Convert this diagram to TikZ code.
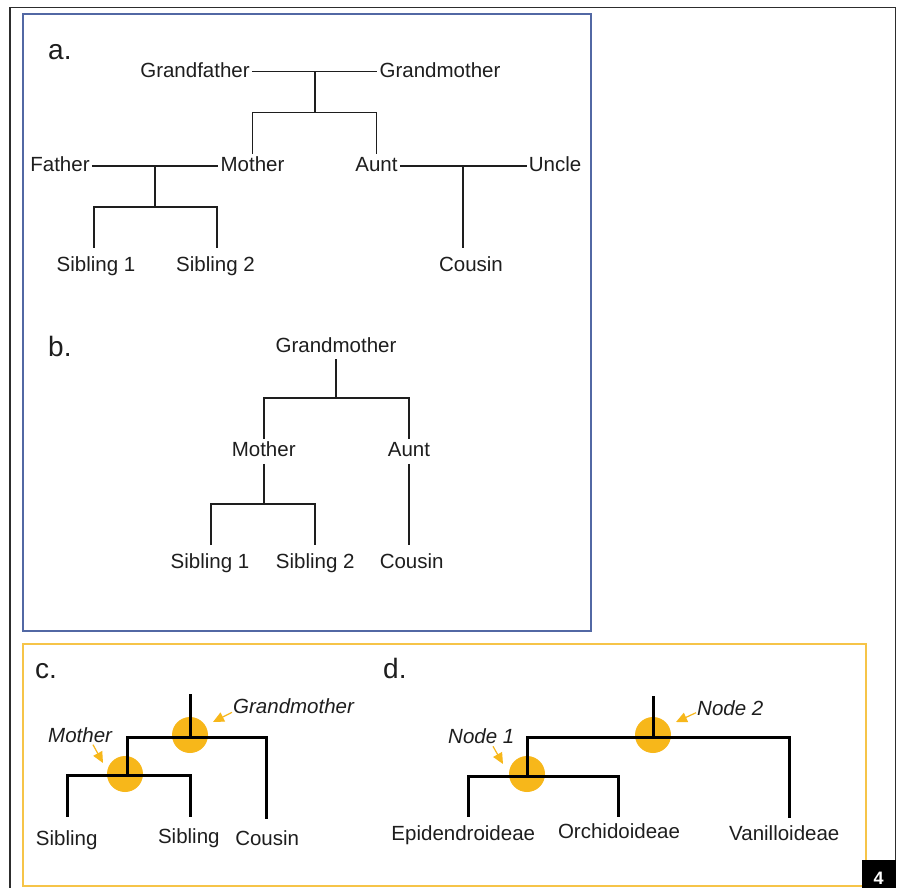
\documentclass[tikz,border=0pt]{standalone}
\usepackage{fontspec}
\setmainfont{Liberation Sans}
\usetikzlibrary{arrows.meta,calc}
\definecolor{frameblue}{RGB}{82,104,164}
\definecolor{frameorange}{RGB}{246,196,72}
\definecolor{dotorange}{RGB}{247,183,26}
\definecolor{framegray}{RGB}{45,45,45}
\definecolor{inkgray}{RGB}{30,30,30}
\begin{document}
\begin{tikzpicture}[x=1pt,y=-1pt,
  lab/.style={font=\fontsize{20.5}{24}\selectfont, text height=15pt, text depth=4pt,
              inner xsep=2pt, inner ysep=3pt, anchor=base, text=inkgray},
  ilab/.style={lab, font=\fontsize{20.5}{24}\selectfont\itshape},
  panel/.style={font=\fontsize{28}{32}\selectfont, anchor=base west, inner sep=0pt, text=inkgray},
  thinline/.style={line width=1.7pt, draw=inkgray},
  thickline/.style={line width=3pt, draw=black, line join=miter},
  pointer/.style={draw=dotorange, line width=1.2pt, -{Triangle[length=11pt,width=10pt]}},
  dot/.style={fill=dotorange}]
\useasboundingbox (0,0) rectangle (902,887);
\fill[white] (0,0) rectangle (902,887);

% frames
\draw[framegray, line width=1.5pt] (10,890) -- (10,7.5) -- (895.5,7.5) -- (895.5,890);
\draw[frameblue, line width=2pt] (22.5,14) rectangle (590.5,630.5);
\draw[frameorange, line width=2pt] (22.5,643.5) rectangle (866,885.5);
\fill[black] (862,860) rectangle (895.5,890);
\node[font=\bfseries\fontsize{18}{20}\selectfont, text=white] (num) at (878.5,878.5) {4};

% ---------- panel a ----------
\node[panel] (pa) at (48,59.3) {a.};
\node[lab] (gf) at (195,77) {Grandfather};
\node[lab] (gm) at (440,77) {Grandmother};
\node[lab] (fa) at (60,171.7) {Father};
\node[lab] (mo) at (252.5,171.7) {Mother};
\node[lab] (au) at (376.5,171.7) {Aunt};
\node[lab] (un) at (555,171.7) {Uncle};
\node[lab] (s1) at (96,271.7) {Sibling 1};
\node[lab] (s2) at (215.5,271.7) {Sibling 2};
\node[lab] (co) at (471,271.7) {Cousin};

\draw[thinline] (gf.east) -- (gm.west);
\coordinate (gfm) at ($(gf.east)!0.5!(gm.west)$);
\draw[thinline] (gfm) -- ++(0,41) coordinate (gfb);
\draw[thinline] (mo.north) |- (gfb) -| (au.north);

\draw[thinline] (fa.east) -- (mo.west);
\coordinate (fmm) at ($(fa.east)!0.5!(mo.west)$);
\draw[thinline] (fmm) -- ++(0,41) coordinate (fmb);
\path (s1.north) ++(-2,-6) coordinate (s1t);
\path (s2.north) ++(1.5,-6) coordinate (s2t);
\draw[thinline] (s1t) |- (fmb) -| (s2t);

\draw[thinline] (au.east) -- (un.west);
\coordinate (aum) at ($(au.east)!0.5!(un.west)$);
\path (co.north) ++(0,-6) coordinate (cot);
\draw[thinline] (aum) -- (aum |- cot);

% ---------- panel b ----------
\node[panel] (pb) at (48,356) {b.};
\node[lab] (bgm) at (336,352) {Grandmother};
\node[lab] (bmo) at (263.7,456.7) {Mother};
\node[lab] (bau) at (409,456.7) {Aunt};
\node[lab] (bs1) at (210,568.3) {Sibling 1};
\node[lab] (bs2) at (315.3,568.3) {Sibling 2};
\node[lab] (bco) at (411.7,568.3) {Cousin};

\draw[thinline] (bgm.south) -- ++(0,39) coordinate (bgb);
\draw[thinline] (bmo.north) |- (bgb) -| (bau.north);
\draw[thinline] (bmo.south) -- ++(0,40) coordinate (bmb);
\path (bs1.north) ++(1,-5) coordinate (bs1t);
\path (bs2.north) ++(0,-5) coordinate (bs2t);
\path (bco.north) ++(0,-5) coordinate (bcot);
\draw[thinline] (bs1t) |- (bmb) -| (bs2t);
\draw[thinline] (bau.south) -- (bau.south |- bcot);

% ---------- panel c ----------
\node[panel] (pc) at (35,678) {c.};
\coordinate (cgm) at (190,737);
\coordinate (cmo) at (127,775);
\fill[dot] ($(cgm)+(0,-2)$) circle (18);
\fill[dot] ($(cmo)+(-2,-1)$) circle (18);
\node[lab] (ct1) at (66.7,845) {Sibling};
\node[lab] (ct2) at (188.8,843.3) {Sibling};
\node[lab] (ct3) at (267.2,845.7) {Cousin};
\path (ct1.north) ++(0.3,-10) coordinate (ct1t);
\path (ct2.north) ++(1.2,-8.3) coordinate (ct2t);
\path (ct3.north) ++(-1.2,-8.7) coordinate (ct3t);
\draw[thickline] (cgm) -- ++(0,-43);
\draw[thickline] (cmo) |- (cgm) -| (ct3t);
\draw[thickline] (ct1t) |- (cmo) -| (ct2t);
\node[ilab, anchor=base west] (cgml) at (231,713.3) {Grandmother};
\node[ilab, anchor=base west] (cmol) at (46,742.7) {Mother};
\draw[pointer] ($(cgml.base west)+(1,-1)$) -- ($(cgm)+(23,-15)$);
\draw[pointer] ($(cmol.base west)+(47,2)$) -- ($(cmo)+(-24,-12)$);

% ---------- panel d ----------
\node[panel] (pd) at (383,678) {d.};
\coordinate (dn2) at (653,737);
\coordinate (dn1) at (527,776);
\fill[dot] ($(dn2)+(0,-2)$) circle (18);
\fill[dot] ($(dn1)+(0,-2)$) circle (18);
\node[lab] (de) at (463.3,840) {Epidendroideae};
\node[lab] (dor) at (619,838.3) {Orchidoideae};
\node[lab] (dva) at (784.3,840.7) {Vanilloideae};
\path (de.north) ++(4.7,-5) coordinate (det);
\path (dor.north) ++(-1,-3.3) coordinate (dort);
\path (dva.north) ++(4.7,-4.7) coordinate (dvat);
\draw[thickline] (dn2) -- ++(0,-41);
\draw[thickline] (dn1) |- (dn2) -| (dvat);
\draw[thickline] (det) |- (dn1) -| (dort);
\node[ilab, anchor=base west] (dn2l) at (695,715.7) {Node 2};
\node[ilab, anchor=base west] (dn1l) at (446,743.3) {Node 1};
\draw[pointer] ($(dn2l.base west)+(1,-3)$) -- ($(dn2)+(23,-15)$);
\draw[pointer] ($(dn1l.base west)+(47,3)$) -- ($(dn1)+(-24,-12)$);
\end{tikzpicture}
\end{document}
